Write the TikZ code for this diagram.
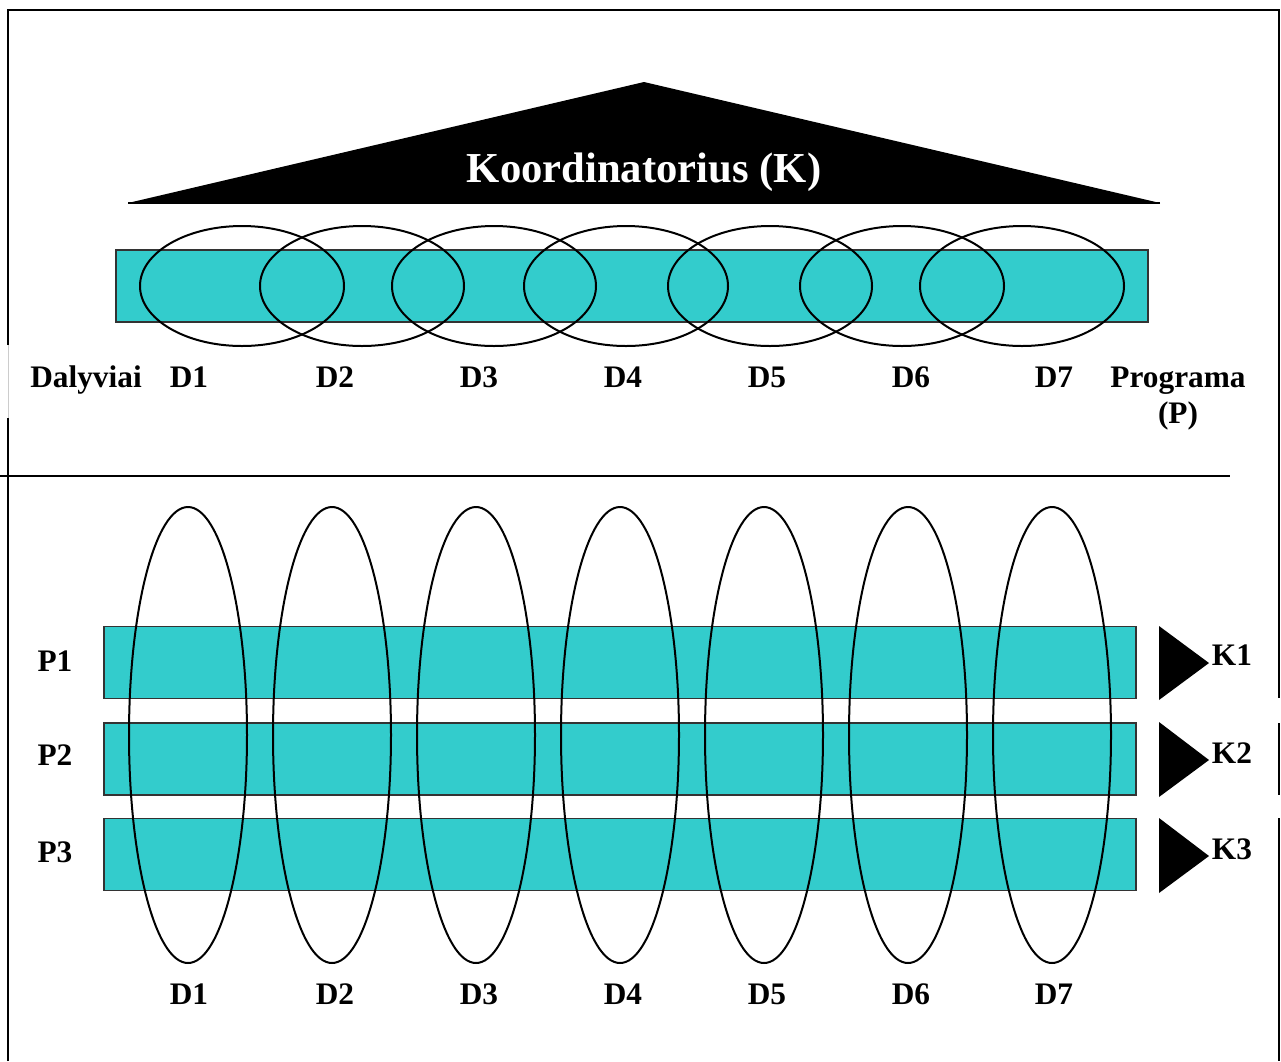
\documentclass[tikz,border=0pt]{standalone}
\usepackage{fontspec}
\setmainfont{Liberation Serif}
\usetikzlibrary{shapes.geometric}
\definecolor{bar}{HTML}{33CCCC}
\definecolor{barline}{HTML}{333333}
\tikzset{
  lbl/.style={font=\fontsize{23.5}{26}\selectfont\bfseries, anchor=base, inner sep=0pt},
  bigl/.style={font=\fontsize{32}{36}\selectfont\bfseries, text=white, anchor=base, inner sep=0pt},
  barbox/.style={draw=barline, line width=1.2pt, fill=bar, rectangle, minimum width=774pt, minimum height=54pt, inner sep=0pt},
  hring/.style={draw=black, line width=1.5pt, ellipse, minimum width=153pt, minimum height=90pt, inner sep=0pt},
  vring/.style={draw=black, line width=1.5pt, ellipse, minimum width=88.5pt, minimum height=342pt, inner sep=0pt},
  frameline/.style={line width=2pt, black},
}
\begin{document}
\begin{tikzpicture}[x=0.75pt,y=-0.75pt]
\useasboundingbox (0,0) rectangle (1281,1061);
% frame
\coordinate (fl0) at (8,1061);
\coordinate (fl1) at (8,418);
\coordinate (fl2) at (8,345);
\coordinate (ftl) at (8,10);
\coordinate (ftr) at (1279,10);
\coordinate (fr1) at (1279,698);
\coordinate (fr2) at (1279,723);
\coordinate (fr3) at (1279,795);
\coordinate (fr4) at (1279,818);
\coordinate (fr5) at (1279,1061);
\draw[frameline] (fl0) -- (fl1);
\draw[line width=0.5pt, gray!40] (fl1) -- (fl2);
\draw[frameline] (fl2) -- (ftl) -- (ftr) -- (fr1);
\draw[frameline] (fr2) -- (fr3);
\draw[frameline] (fr4) -- (fr5);
% divider
\coordinate (dvl) at (0,476);
\coordinate (dvr) at (1230,476);
\draw[line width=1.6pt] (dvl) -- (dvr);
% roof
\coordinate (ra) at (644,82);
\coordinate (rl) at (128,203);
\coordinate (rr) at (1160,203);
\fill[black] (ra) -- (rr) -- (rl) -- cycle;
\draw[line width=1.8pt] (rl) -- (rr);
\node[bigl] (koord) at (644,182) {Koordinatorius (K)};
% upper bar
\node[barbox] (pbar) at (632,286) {};
\foreach \i/\x in {1/242,2/362,3/494,4/626,5/770,6/902,7/1022}{
  \node[hring] (h\i) at (\x,286) {};
}
\node[lbl] (dal) at (86,387) {Dalyviai};
\foreach \i/\x in {1/189,2/335,3/479,4/623,5/767,6/911,7/1054}{
  \node[lbl] (ud\i) at (\x,387) {D\i};
}
\node[lbl] (prog) at (1178,387) {Programa};
\node[lbl] (progp) at (1178,423) {(P)};
% lower bars
\node[barbox] (b1) at (620,662.5) {};
\node[barbox] (b2) at (620,759) {};
\node[barbox] (b3) at (620,854.5) {};
\foreach \i/\x in {1/188,2/332,3/476,4/620,5/764,6/908,7/1052}{
  \node[vring] (v\i) at (\x,735) {};
}
\foreach \i/\x in {1/189,2/335,3/479,4/623,5/767,6/911,7/1054}{
  \node[lbl] (ld\i) at (\x,1004) {D\i};
}
\node[lbl] (p1) at (55,671) {P1};
\node[lbl] (p2) at (55,765) {P2};
\node[lbl] (p3) at (55,862) {P3};
% K markers
\foreach \i/\t/\a/\b in {1/626/663/700,2/722/760/797,3/818/856/893}{
  \coordinate (kt\i) at (1159,\t);
  \coordinate (ka\i) at (1209,\a);
  \coordinate (kb\i) at (1159,\b);
  \fill[black] (kt\i) -- (ka\i) -- (kb\i) -- cycle;
}
\node[lbl] (k1) at (1232,665) {K1};
\node[lbl] (k2) at (1232,763) {K2};
\node[lbl] (k3) at (1232,859) {K3};
\end{tikzpicture}
\end{document}
